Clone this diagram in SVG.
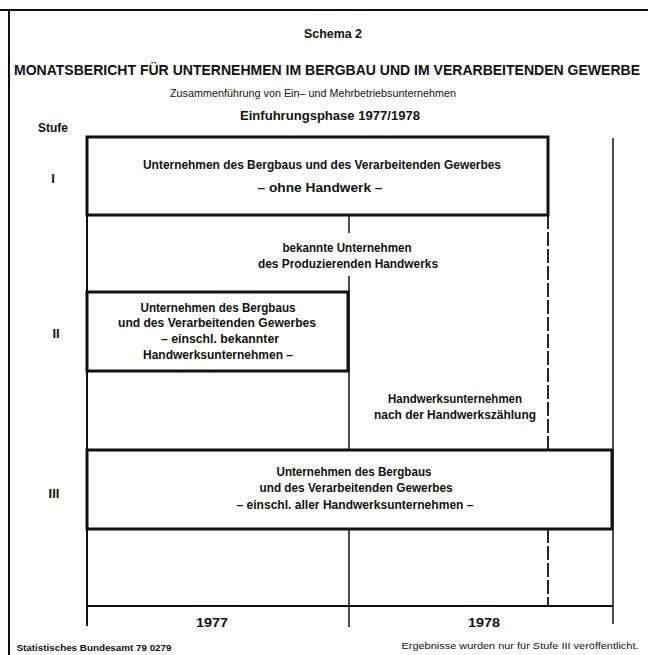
<svg xmlns="http://www.w3.org/2000/svg" width="648" height="655" viewBox="0 0 648 655">
<style>
text{font-family:"Liberation Sans",Arial,sans-serif;fill:#111;text-anchor:middle}
.b{font-weight:bold}
.box{fill:none;stroke:#111;stroke-width:3}
.ln{stroke:#111;stroke-width:2;fill:none}
.th{stroke:#111;stroke-width:1.5;fill:none}
.dash{stroke:#111;stroke-width:1.8;stroke-dasharray:14 3;fill:none}
</style>
<rect width="648" height="655" fill="#fff"/>
<g id="frame">
<line class="ln" x1="0" y1="10" x2="648" y2="10"/>
<line class="ln" x1="9" y1="10" x2="9" y2="655"/>
</g>
<g id="header">
<text class="b" x="333" y="38" font-size="12" textLength="58" lengthAdjust="spacingAndGlyphs">Schema 2</text>
<text class="b" x="327" y="75" font-size="14" textLength="626" lengthAdjust="spacingAndGlyphs">MONATSBERICHT FÜR UNTERNEHMEN IM BERGBAU UND IM VERARBEITENDEN GEWERBE</text>
<text x="313" y="97" font-size="11" textLength="286" lengthAdjust="spacingAndGlyphs">Zusammenführung von Ein– und Mehrbetriebsunternehmen</text>
<text class="b" x="330" y="120" font-size="13" textLength="180" lengthAdjust="spacingAndGlyphs">Einfuhrungsphase 1977/1978</text>
</g>
<g id="stufen">
<text class="b" x="53" y="132" font-size="13" textLength="30" lengthAdjust="spacingAndGlyphs">Stufe</text>
<text class="b" x="53" y="183" font-size="13">I</text>
<text class="b" x="56" y="338" font-size="13">II</text>
<text class="b" x="54" y="498" font-size="13">III</text>
</g>
<g id="connectors">
<line class="ln" x1="87" y1="215" x2="87" y2="626"/>
<line class="th" x1="349" y1="215" x2="349" y2="233"/>
<line class="th" x1="349" y1="276" x2="349" y2="450"/>
<line class="th" x1="349" y1="529" x2="349" y2="627"/>
<line class="dash" x1="548" y1="215" x2="548" y2="450"/>
<line class="dash" x1="548" y1="529" x2="548" y2="606"/>
<line class="th" x1="613" y1="138" x2="613" y2="624"/>
<line class="ln" x1="87" y1="606" x2="613" y2="606"/>
</g>
<g id="stufe1">
<rect class="box" x="87" y="137" width="461" height="78"/>
<text class="b" x="322" y="169" font-size="12" textLength="358" lengthAdjust="spacingAndGlyphs">Unternehmen des Bergbaus und des Verarbeitenden Gewerbes</text>
<text class="b" x="320" y="192" font-size="12" textLength="125" lengthAdjust="spacingAndGlyphs">– ohne Handwerk –</text>
</g>
<g id="bekannte">
<text class="b" x="347" y="252" font-size="12" textLength="129" lengthAdjust="spacingAndGlyphs">bekannte Unternehmen</text>
<text class="b" x="348" y="268" font-size="12" textLength="180" lengthAdjust="spacingAndGlyphs">des Produzierenden Handwerks</text>
</g>
<g id="stufe2">
<rect class="box" x="87" y="292" width="261" height="79"/>
<text class="b" x="218" y="312" font-size="12" textLength="155" lengthAdjust="spacingAndGlyphs">Unternehmen des Bergbaus</text>
<text class="b" x="217" y="327" font-size="12" textLength="198" lengthAdjust="spacingAndGlyphs">und des Verarbeitenden Gewerbes</text>
<text class="b" x="220" y="343" font-size="12" textLength="118" lengthAdjust="spacingAndGlyphs">– einschl. bekannter</text>
<text class="b" x="218" y="359" font-size="12" textLength="150" lengthAdjust="spacingAndGlyphs">Handwerksunternehmen –</text>
</g>
<g id="zaehlung">
<text class="b" x="455" y="403" font-size="12" textLength="134" lengthAdjust="spacingAndGlyphs">Handwerksunternehmen</text>
<text class="b" x="455" y="419" font-size="12" textLength="162" lengthAdjust="spacingAndGlyphs">nach der Handwerkszählung</text>
</g>
<g id="stufe3">
<rect class="box" x="87" y="450" width="525" height="79"/>
<text class="b" x="354" y="476" font-size="12" textLength="155" lengthAdjust="spacingAndGlyphs">Unternehmen des Bergbaus</text>
<text class="b" x="356" y="492" font-size="12" textLength="193" lengthAdjust="spacingAndGlyphs">und des Verarbeitenden Gewerbes</text>
<text class="b" x="355" y="509" font-size="12" textLength="237" lengthAdjust="spacingAndGlyphs">– einschl. aller Handwerksunternehmen –</text>
</g>
<g id="axis">
<text class="b" x="212" y="627" font-size="13" textLength="32" lengthAdjust="spacingAndGlyphs">1977</text>
<text class="b" x="484" y="627" font-size="13" textLength="32" lengthAdjust="spacingAndGlyphs">1978</text>
</g>
<g id="footer">
<text class="b" x="94" y="651" font-size="9" textLength="155" lengthAdjust="spacingAndGlyphs">Statistisches Bundesamt 79 0279</text>
<text x="520" y="649" font-size="9.5" textLength="237" lengthAdjust="spacingAndGlyphs">Ergebnisse wurden nur für Stufe III veröffentlicht.</text>
</g>
</svg>
